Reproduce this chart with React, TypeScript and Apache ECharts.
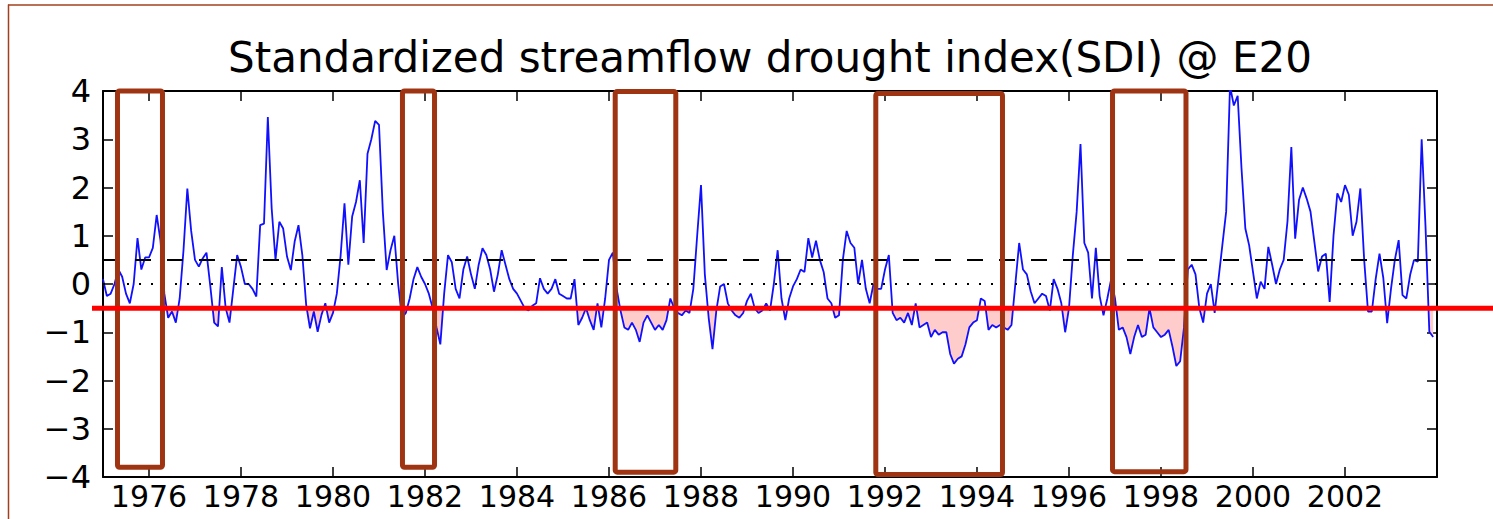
import React, { useEffect, useRef } from 'react';
import * as echarts from 'echarts';

const startYear = 1975;
const titleText = 'Standardized streamflow drought index(SDI) @ E20';

// Monthly SDI values
const sdi1975to1979 = [
  0.1, -0.25, -0.2, 0.0, 0.3, 0.15, -0.2, -0.4, 0.0, 0.95, 0.3, 0.55,
  0.55, 0.75, 1.43, 0.9, -0.2, -0.7, -0.57, -0.8, -0.3, 0.7, 1.98, 1.1,
  0.5, 0.36, 0.53, 0.65, -0.05, -0.8, -0.88, 0.35, -0.5, -0.8, -0.1, 0.6,
  0.35, 0.0, 0.0, -0.1, -0.26, 1.22, 1.25, 3.46, 1.57, 0.5, 1.29, 1.15,
  0.57, 0.29, 0.88, 1.22, 0.6, -0.43, -0.92, -0.57, -0.99, -0.64, -0.4, -0.8,
];
const sdi1980to1984 = [
  -0.6, -0.2, 0.6, 1.67, 0.4, 1.4, 1.7, 2.15, 0.85, 2.7, 3.0, 3.38,
  3.3, 1.5, 0.29, 0.7, 1.0, 0.0, -0.7, -0.6, -0.3, 0.1, 0.35, 0.15,
  0.0, -0.2, -0.5, -0.9, -1.25, -0.2, 0.6, 0.45, -0.1, -0.3, 0.3, 0.57,
  0.2, -0.1, 0.4, 0.74, 0.6, 0.3, -0.16, 0.2, 0.7, 0.4, 0.1, -0.1,
  -0.2, -0.35, -0.5, -0.55, -0.45, -0.4, 0.12, -0.1, -0.2, -0.1, 0.1, -0.2,
];
const sdi1985to1989 = [
  -0.25, -0.3, -0.3, 0.1, -0.85, -0.7, -0.5, -0.75, -0.95, -0.4, -0.9, -0.3,
  0.5, 0.65, -0.1, -0.55, -0.9, -0.95, -0.8, -0.95, -1.2, -0.8, -0.65, -0.8,
  -0.95, -0.85, -0.95, -0.75, -0.3, -0.5, -0.6, -0.65, -0.55, -0.6, -0.1, 1.0,
  2.05, 0.2, -0.7, -1.35, -0.55, -0.05, 0.0, -0.4, -0.55, -0.65, -0.7, -0.6,
  -0.35, -0.2, -0.5, -0.6, -0.55, -0.4, -0.55, 0.0, 0.7, -0.3, -0.75, -0.3,
];
const sdi1990to1994 = [
  -0.05, 0.1, 0.3, 0.25, 0.95, 0.55, 0.9, 0.5, 0.25, -0.3, -0.4, -0.7,
  -0.65, 0.5, 1.1, 0.85, 0.75, 0.0, 0.5, -0.1, -0.4, 0.0, -0.1, -0.1,
  0.3, 0.6, -0.6, -0.75, -0.7, -0.8, -0.6, -0.85, -0.4, -0.9, -0.85, -0.8,
  -1.1, -0.95, -1.05, -1.0, -1.0, -1.45, -1.65, -1.55, -1.5, -1.25, -0.9, -0.8,
  -0.75, -0.3, -0.35, -0.95, -0.85, -0.9, -0.85, -0.9, -0.95, -0.85, 0.0, 0.85,
];
const sdi1995to1999 = [
  0.3, 0.2, -0.15, -0.4, -0.3, -0.2, -0.25, -0.55, 0.1, -0.1, -0.4, -1.0,
  -0.5, 0.6, 1.5, 2.9, 0.85, 0.65, -0.3, 0.75, -0.25, -0.65, -0.3, 0.1,
  -0.3, -0.95, -0.9, -1.1, -1.45, -1.1, -0.85, -1.1, -1.05, -0.5, -0.9, -1.0,
  -1.1, -1.05, -0.95, -1.3, -1.7, -1.6, -0.9, 0.3, 0.4, 0.2, -0.5, -0.8,
  -0.2, 0.0, -0.6, 0.1, 0.8, 1.5, 4.1, 3.7, 3.9, 2.4, 1.15, 0.8,
];
const sdi2000to2003 = [
  0.25, -0.3, 0.05, -0.1, 0.77, 0.4, 0.0, 0.3, 0.5, 1.3, 2.84, 0.94,
  1.74, 2.0, 1.77, 1.5, 0.88, 0.26, 0.57, 0.63, -0.37, 1.0, 1.88, 1.7,
  2.05, 1.85, 1.0, 1.29, 1.98, 0.5, -0.57, -0.57, 0.1, 0.63, 0.12, -0.81,
  -0.1, 0.5, 0.91, -0.23, -0.3, 0.19, 0.5, 0.46, 3.0, 1.2, -0.99, -1.1,
];

const xTickYears = [1976, 1978, 1980, 1982, 1984, 1986, 1988, 1990, 1992, 1994, 1996, 1998, 2000, 2002];
const xMin = 1975;
const xMax = 2004;
const yMin = -4;
const yMax = 4;
const wetLevel = 0.5;
const normalLevel = 0;
const droughtLevel = -0.5;

// Highlighted drought periods (annotation boxes)
const boxStartYears = [1975.315, 1981.51, 1986.135, 1991.8, 1996.946];
const boxEndYears = [1976.293, 1982.207, 1987.452, 1994.554, 1998.543];
const boxTopValues = [4.0, 4.0, 3.99, 3.95, 4.0];
const boxBottomValues = [-3.8, -3.8, -3.9, -3.95, -3.89];

const FONT = 'DejaVu Sans';
const BROWN = '#9e3412';

export default function App() {
  const ref = useRef<HTMLDivElement>(null);

  useEffect(() => {
    if (!ref.current) return;
    const chart = echarts.init(ref.current, undefined, { renderer: 'svg' });

    const values = [
      ...sdi1975to1979,
      ...sdi1980to1984,
      ...sdi1985to1989,
      ...sdi1990to1994,
      ...sdi1995to1999,
      ...sdi2000to2003,
    ];
    const points = values.map((v, i) => [startYear + i / 12, v]);

    // fill-between outline under the drought threshold (with exact crossings)
    const fillPts: number[][] = [];
    for (let i = 0; i < points.length; i++) {
      const [x0, v0] = points[i];
      fillPts.push([x0, Math.min(v0, droughtLevel)]);
      if (i < points.length - 1) {
        const [x1, v1] = points[i + 1];
        if ((v0 - droughtLevel) * (v1 - droughtLevel) < 0) {
          const xc = x0 + ((droughtLevel - v0) / (v1 - v0)) * (x1 - x0);
          fillPts.push([xc, droughtLevel]);
        }
      }
    }

    const tickCommon = {
      show: true,
      inside: true,
      length: 10,
      lineStyle: { color: '#000', width: 1.5 },
      customValues: xTickYears,
    };
    const yTick = { show: true, inside: true, length: 10, lineStyle: { color: '#000', width: 1.5 } };
    const frameLine = { show: true, onZero: false, lineStyle: { color: '#000', width: 2 } };

    chart.setOption({
      animation: false,
      grid: { left: 103, right: 56, top: 91, bottom: 42, containLabel: false },
      xAxis: [
        {
          type: 'value',
          min: xMin,
          max: xMax,
          position: 'bottom',
          axisLine: frameLine,
          axisTick: tickCommon,
          splitLine: { show: false },
          axisLabel: {
            customValues: xTickYears,
            formatter: (v: number) => String(Math.round(v)),
            fontSize: 30,
            fontFamily: FONT,
            color: '#000',
            margin: 4,
          },
        },
        {
          type: 'value',
          min: xMin,
          max: xMax,
          position: 'top',
          axisLine: frameLine,
          axisTick: tickCommon,
          splitLine: { show: false },
          axisLabel: { show: false },
        },
      ],
      yAxis: [
        {
          type: 'value',
          min: yMin,
          max: yMax,
          interval: 1,
          position: 'left',
          axisLine: frameLine,
          axisTick: yTick,
          splitLine: { show: false },
          axisLabel: {
            formatter: (v: number) => (v < 0 ? '\u2212' + Math.abs(v) : String(v)),
            fontSize: 32,
            fontFamily: FONT,
            color: '#000',
            margin: 12,
          },
        },
        {
          type: 'value',
          min: yMin,
          max: yMax,
          interval: 1,
          position: 'right',
          axisLine: frameLine,
          axisTick: yTick,
          splitLine: { show: false },
          axisLabel: { show: false },
        },
      ],
      series: [
        {
          type: 'custom',
          name: 'droughtFill',
          silent: true,
          z: 1,
          data: [[xMin, droughtLevel]],
          renderItem: (params: any, api: any) => {
            const pts = fillPts.map((p) => api.coord(p));
            pts.push(api.coord([fillPts[fillPts.length - 1][0], droughtLevel]));
            pts.push(api.coord([fillPts[0][0], droughtLevel]));
            return {
              type: 'polygon',
              shape: { points: pts },
              style: { fill: '#ffcccc', stroke: 'none' },
            };
          },
        },
        {
          type: 'line',
          name: 'SDI',
          data: points,
          symbol: 'none',
          clip: true,
          lineStyle: { color: '#1010ff', width: 1.8 },
          z: 3,
          markLine: {
            silent: true,
            symbol: ['none', 'none'],
            label: { show: false },
            data: [
              { yAxis: wetLevel, lineStyle: { color: '#000', type: [16, 16], width: 2 } },
              { yAxis: normalLevel, lineStyle: { color: '#000', type: [2, 10], width: 2 } },
              { yAxis: droughtLevel, lineStyle: { color: '#000', type: [16, 16], width: 2 } },
            ],
          },
        },
      ],
    });

    const toPx = (x: number, y: number) =>
      chart.convertToPixel({ gridIndex: 0 }, [x, y]) as number[];

    const redY = toPx(xMin, droughtLevel)[1];
    const boxes = boxStartYears.map((s, i) => {
      const p0 = toPx(s, boxTopValues[i]);
      const p1 = toPx(boxEndYears[i], boxBottomValues[i]);
      return {
        type: 'rect',
        z: 100,
        shape: { x: p0[0], y: p0[1], width: p1[0] - p0[0], height: p1[1] - p0[1], r: 2 },
        style: { fill: 'none', stroke: BROWN, lineWidth: 5 },
        silent: true,
      };
    });

    chart.setOption({
      graphic: [
        {
          type: 'line',
          z: 100,
          shape: { x1: 8.5, y1: 4.5, x2: 8.5, y2: 519 },
          style: { stroke: '#a0401f', lineWidth: 1.5 },
          silent: true,
        },
        {
          type: 'line',
          z: 100,
          shape: { x1: 8, y1: 5, x2: 1493, y2: 5 },
          style: { stroke: '#a0401f', lineWidth: 1.5 },
          silent: true,
        },
        {
          type: 'text',
          z: 100,
          x: 770,
          y: 57,
          style: {
            text: titleText,
            fontSize: 42,
            fontFamily: FONT,
            fill: '#000',
            align: 'center',
            verticalAlign: 'middle',
          },
        },
        {
          type: 'line',
          z: 101,
          shape: { x1: 92, y1: redY, x2: 1493, y2: redY },
          style: { stroke: '#ff0000', lineWidth: 5 },
          silent: true,
        },
        ...boxes,
      ],
    });

    return () => chart.dispose();
  }, []);

  return (
    <div
      ref={ref}
      style={{ position: 'absolute', left: 0, top: 0, width: 1493, height: 519, background: '#fff' }}
    />
  );
}
